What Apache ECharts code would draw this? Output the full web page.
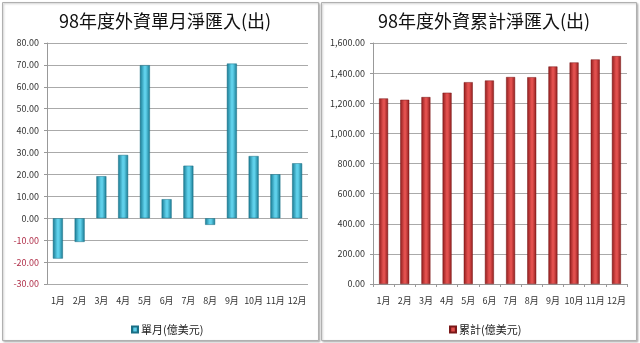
<!DOCTYPE html>
<html><head><meta charset="utf-8">
<script src="https://cdn.jsdelivr.net/npm/echarts@6/dist/echarts.min.js"></script>
<style>html,body{margin:0;padding:0;background:#fff}#c{width:640px;height:343px}</style>
</head><body><div id="c"></div>
<script>
const months = ['1月','2月','3月','4月','5月','6月','7月','8月','9月','10月','11月','12月'];
const monthlyName = '單月(億美元)';
const cumulativeName = '累計(億美元)';
const monthlyValues = [-18.4, -10.8, 19.2, 28.9, 69.9, 8.7, 24.0, -3.0, 70.6, 28.4, 20.1, 25.1];
const cumulativeValues = [1232, 1223, 1241, 1270, 1340, 1351, 1374, 1373, 1444, 1471, 1491, 1513];
const leftTitle = '98年度外資單月淨匯入(出)';
const rightTitle = '98年度外資累計淨匯入(出)';

const FONT = '"Noto Sans CJK TC","Noto Sans",sans-serif';
function grad(edge, mid) {
  return new echarts.graphic.LinearGradient(0,0,1,0,[
    {offset:0,color:edge},{offset:0.45,color:mid},{offset:0.6,color:mid},{offset:1,color:edge}]);
}
function fmt(v){
  return v.toLocaleString('en-US',{minimumFractionDigits:2,maximumFractionDigits:2});
}
const chart = echarts.init(document.getElementById('c'), null, {renderer:'canvas'});
const common = {fontFamily: FONT, fontSize: 9, color:'#333'};
chart.setOption({
  animation:false,
  textStyle:{fontFamily:FONT},
  graphic:[
    {type:'rect', shape:{x:2.5,y:2.5,width:316,height:338}, style:{fill:'#fff',stroke:'#b0b0b0',lineWidth:1, shadowBlur:2, shadowColor:'rgba(0,0,0,0.25)', shadowOffsetX:1, shadowOffsetY:1}, z:-10},
    {type:'rect', shape:{x:321.5,y:2.5,width:315,height:338}, style:{fill:'#fff',stroke:'#b0b0b0',lineWidth:1, shadowBlur:2, shadowColor:'rgba(0,0,0,0.25)', shadowOffsetX:1, shadowOffsetY:1}, z:-10}
  ],
  title:[
    {text:leftTitle, left:160, top:7, textAlign:'center', textStyle:{fontFamily:FONT,fontSize:18,fontWeight:'normal',color:'#111'}},
    {text:rightTitle, left:479, top:7, textAlign:'center', textStyle:{fontFamily:FONT,fontSize:18,fontWeight:'normal',color:'#111'}}
  ],
  legend:[
    {data:[monthlyName], left:126, top:319, itemWidth:6, itemHeight:6, itemGap:4,
     textStyle:{fontFamily:FONT,fontSize:11,color:'#222',padding:[0,0,0,-2]}, icon:'rect'},
    {data:[cumulativeName], left:444, top:319, itemWidth:6, itemHeight:6,
     textStyle:{fontFamily:FONT,fontSize:11,color:'#222',padding:[0,0,0,-2]}, icon:'rect'}
  ],
  grid:[
    {left:47, top:43, width:261, height:241},
    {left:373, top:43, width:254, height:241}
  ],
  xAxis:[
    {type:'category', gridIndex:0, data:months, axisLine:{show:false, onZero:false}, axisTick:{show:false},
     axisLabel:Object.assign({margin:12, interval:0}, common)},
    {type:'category', gridIndex:1, data:months, axisLine:{lineStyle:{color:'#999'}}, axisTick:{show:true,length:3,lineStyle:{color:'#999'}},
     axisLabel:Object.assign({margin:12, interval:0}, common)}
  ],
  yAxis:[
    {type:'value', gridIndex:0, min:-30, max:80, interval:10,
     axisLine:{show:true,lineStyle:{color:'#999'}}, axisTick:{show:true,length:3,lineStyle:{color:'#999'}},
     splitLine:{lineStyle:{color:'#aaa'}},
     axisLabel:{fontFamily:FONT,fontSize:9,margin:8,
       color:function(v){return v<0?'#b0304a':'#333';},
       formatter:function(v){return fmt(v);}}},
    {type:'value', gridIndex:1, min:0, max:1600, interval:200,
     axisLine:{show:true,lineStyle:{color:'#999'}}, axisTick:{show:true,length:3,lineStyle:{color:'#999'}},
     splitLine:{lineStyle:{color:'#aaa'}},
     axisLabel:{fontFamily:FONT,fontSize:9,margin:8,color:'#333',formatter:function(v){return fmt(v);}}}
  ],
  series:[
    {name:monthlyName, type:'bar', xAxisIndex:0, yAxisIndex:0, data:monthlyValues, barWidth:10,
     itemStyle:{color:grad('#177890','#5fd0ea'), borderColor:'#1a6f85', borderWidth:0.5}},
    {name:cumulativeName, type:'bar', xAxisIndex:1, yAxisIndex:1, data:cumulativeValues, barWidth:9,
     itemStyle:{color:grad('#8e1c1c','#e2504e'), borderColor:'#7a1818', borderWidth:0.5}}
  ]
});
</script></body></html>
